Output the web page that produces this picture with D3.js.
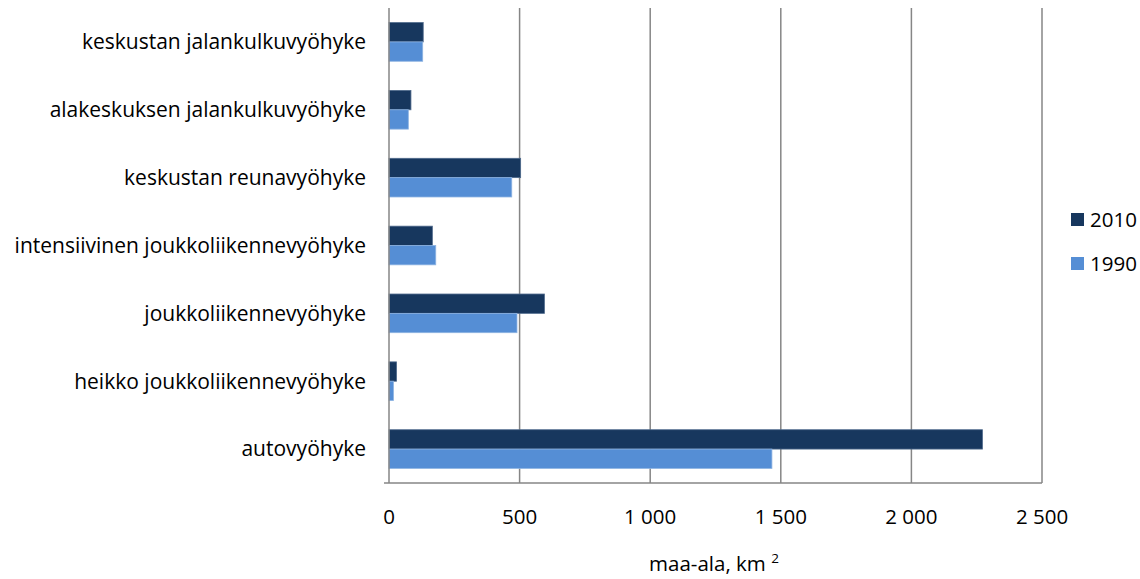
<!DOCTYPE html>
<html>
<head>
<meta charset="utf-8">
<script src="https://cdn.jsdelivr.net/npm/d3@7"></script>
<style>
  body { margin: 0; background: #fff; }
  text { font-family: "Open Sans", Lato, sans-serif; fill: #000; }
</style>
</head>
<body>
<svg id="chart" width="1140" height="579"></svg>
<script>
// data (km²)
const categories = [
  "keskustan jalankulkuvyöhyke",
  "alakeskuksen jalankulkuvyöhyke",
  "keskustan reunavyöhyke",
  "intensiivinen joukkoliikennevyöhyke",
  "joukkoliikennevyöhyke",
  "heikko joukkoliikennevyöhyke",
  "autovyöhyke"
];
const series = ["2010", "1990"];
const values2010 = [131, 84, 504, 166, 595, 29, 2272];
const values1990 = [129, 74, 470, 179, 490, 17, 1466];
const xTicks = [0, 500, 1000, 1500, 2000, 2500];
const tickLabels = ["0", "500", "1 000", "1 500", "2 000", "2 500"];

const colors = { "2010": "#17375E", "1990": "#558ED5" };
const strokes = { "2010": "#4F6A8C", "1990": "#8DB3E2" };

const fontSize = "20.5px";
const margin = { top: 8, left: 389, right: 98, bottom: 96 };
const width = 1140, height = 579;
const svg = d3.select("#chart");

const x = d3.scaleLinear().domain([0, 2500]).range([margin.left, width - margin.right]);
const y = d3.scaleBand().domain(categories).range([margin.top, height - margin.bottom]).paddingInner(0.43).paddingOuter(0.215);
const sub = d3.scaleBand().domain(series).range([0, y.bandwidth()]);

// gridlines
svg.append("g")
  .selectAll("line")
  .data(xTicks.slice(1))
  .join("line")
    .attr("x1", d => x(d)).attr("x2", d => x(d))
    .attr("y1", margin.top).attr("y2", height - margin.bottom)
    .attr("stroke", "#868686")
    .attr("stroke-width", 1.5);

const rows = categories.map((c, i) => ({ cat: c, "2010": values2010[i], "1990": values1990[i] }));

svg.append("g")
  .selectAll("g")
  .data(rows)
  .join("g")
    .attr("transform", d => `translate(0,${y(d.cat)})`)
  .selectAll("rect")
  .data(d => series.map(s => ({ s, v: d[s] })))
  .join("rect")
    .attr("x", x(0))
    .attr("y", d => sub(d.s))
    .attr("width", d => x(d.v) - x(0))
    .attr("height", sub.bandwidth())
    .attr("fill", d => colors[d.s])
    .attr("stroke", d => strokes[d.s])
    .attr("stroke-width", 0.8);

// axis lines
svg.append("line")
  .attr("x1", x(0)).attr("x2", x(0))
  .attr("y1", margin.top).attr("y2", height - margin.bottom)
  .attr("stroke", "#868686").attr("stroke-width", 1.5);
svg.append("line")
  .attr("x1", x(0) - 5).attr("x2", x(2500))
  .attr("y1", height - margin.bottom).attr("y2", height - margin.bottom)
  .attr("stroke", "#868686").attr("stroke-width", 1.5);

// category labels
svg.append("g")
  .selectAll("text")
  .data(categories)
  .join("text")
    .attr("x", 366)
    .attr("y", d => y(d) + y.bandwidth() / 2)
    .attr("dy", "0.35em")
    .attr("text-anchor", "end")
    .style("font-size", "21px")
    .text(d => d);

// tick labels
svg.append("g")
  .selectAll("text")
  .data(xTicks)
  .join("text")
    .attr("x", d => x(d))
    .attr("y", 524)
    .attr("text-anchor", "middle")
    .style("font-size", fontSize)
    .text((d, i) => tickLabels[i]);

// axis title
const title = svg.append("text")
  .attr("x", 714)
  .attr("y", 571)
  .attr("text-anchor", "middle")
  .style("font-size", fontSize);
title.append("tspan").text("maa-ala, km ");
title.append("tspan").attr("dy", -8).style("font-size", "13.5px").text("2");

// legend
const legend = svg.append("g").attr("transform", "translate(1071,213)");
series.forEach((s, i) => {
  legend.append("rect")
    .attr("x", 0).attr("y", i * 44)
    .attr("width", 13).attr("height", 13)
    .attr("fill", colors[s]);
  legend.append("text")
    .attr("x", 19).attr("y", i * 44 + 7)
    .attr("dy", "0.35em")
    .style("font-size", fontSize)
    .text(s);
});
</script>
</body>
</html>
